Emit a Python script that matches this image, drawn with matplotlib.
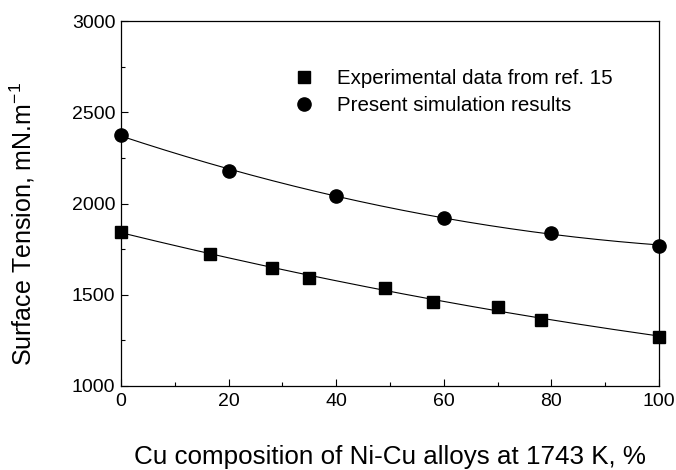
import numpy as np
import matplotlib.pyplot as plt

plt.rcParams['font.family'] = ['Liberation Sans', 'DejaVu Sans']

# experimental data (ref. 15)
x_exp = [0, 16.5, 28, 35, 49, 58, 70, 78, 100]
y_exp = [1845, 1724, 1647, 1593, 1538, 1461, 1434, 1363, 1270]

# simulation results
x_sim = [0, 20, 40, 60, 80, 100]
y_sim = [2376, 2179, 2042, 1921, 1839, 1768]

fig = plt.figure(figsize=(6.76, 4.70), dpi=100)
ax = fig.add_axes([0.179, 0.179, 0.796, 0.776])

# smooth fitted curves through each set
xf = np.linspace(0, 100, 200)
p_exp = np.polyfit(x_exp, y_exp, 2)
p_sim = np.polyfit(x_sim, y_sim, 2)
ax.plot(xf, np.polyval(p_exp, xf), color='black', lw=0.8, zorder=2)
ax.plot(xf, np.polyval(p_sim, xf), color='black', lw=0.8, zorder=2)

ax.plot(x_exp, y_exp, 's', color='black', ms=8, clip_on=False, zorder=3,
        label='Experimental data from ref. 15')
ax.plot(x_sim, y_sim, 'o', color='black', ms=9.5, clip_on=False, zorder=3,
        label='Present simulation results')

ax.set_xlim(0, 100)
ax.set_ylim(1000, 3000)
ax.set_xticks([0, 20, 40, 60, 80, 100])
ax.set_xticks(np.arange(10, 100, 20), minor=True)
ax.set_yticks([1000, 1500, 2000, 2500, 3000])
ax.set_yticks([1250, 1750, 2250, 2750], minor=True)
ax.tick_params(which='both', direction='in', top=False, right=False,
               labelsize=14, width=0.8)
ax.tick_params(which='major', length=5)
ax.tick_params(which='minor', length=3)
ax.tick_params(axis='x', pad=5)
ax.tick_params(axis='y', pad=4)
for s in ax.spines.values():
    s.set_linewidth(0.9)

ax.set_xlabel('Cu composition of Ni-Cu alloys at 1743 K, %', fontsize=18.7, labelpad=25)
ax.set_ylabel('Surface Tension, mN.m$^{\\mathregular{-1}}$', fontsize=18)
ax.yaxis.set_label_coords(-0.156, 0.444)

ax.legend(loc='upper left', bbox_to_anchor=(0.318, 0.869), frameon=False,
          fontsize=14.8, handletextpad=1.0, labelspacing=0.4, handlelength=1.2,
          borderaxespad=0, borderpad=0)

fig.savefig('out.png', dpi=100)
